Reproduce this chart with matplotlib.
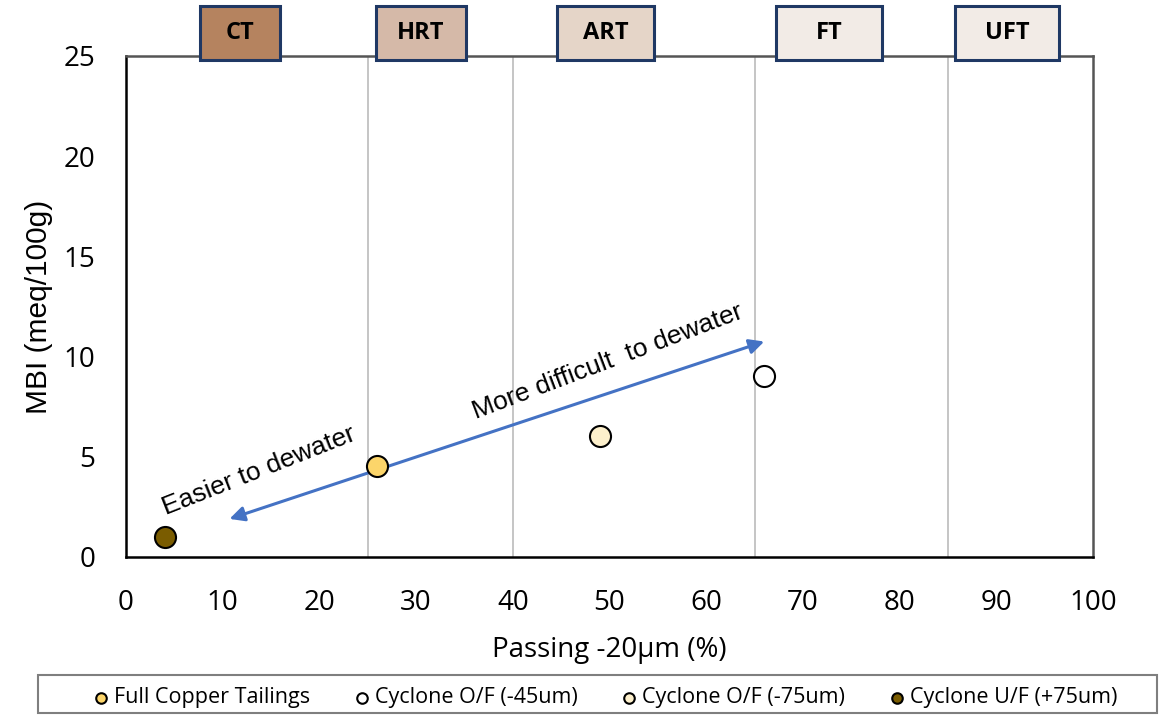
import matplotlib
matplotlib.use("Agg")
import matplotlib.pyplot as plt
from matplotlib.patches import Rectangle

# Data
series_names = ["Full Copper Tailings", "Cyclone O/F (-45um)", "Cyclone O/F (-75um)", "Cyclone U/F (+75um)"]
passing = [26.0, 66.0, 49.0, 4.0]
mbi = [4.55, 9.05, 6.05, 1.0]
colors = ["#fcd56a", "#ffffff", "#fdf0cc", "#7a5c00"]

zone_lines = [25, 40, 65, 85]
zone_labels = ["CT", "HRT", "ART", "FT", "UFT"]
zone_centers = [11.8, 30.5, 49.6, 72.7, 91.1]
zone_widths = [8.3, 9.3, 10.1, 11.0, 10.7]
zone_colors = ["#b5835f", "#d5b9a8", "#e5d5c8", "#f2ebe6", "#f2ebe6"]

arrow_start = (10.7, 1.9)
arrow_end = (66.0, 10.75)

plt.rcParams['font.family'] = ['Open Sans', 'DejaVu Sans']

fig = plt.figure(figsize=(11.7, 7.17), dpi=100)
ax = fig.add_axes([0.1077, 0.2232, 0.8265, 0.6987])
ax.set_xlim(0, 100)
ax.set_ylim(0, 25)
ax.set_xticks(range(0, 101, 10))
ax.set_yticks(range(0, 26, 5))
ax.tick_params(length=0, labelsize=20)
ax.tick_params(axis='x', pad=23)
ax.tick_params(axis='y', pad=22)
for s in ["left", "bottom"]:
    ax.spines[s].set_color("black")
    ax.spines[s].set_linewidth(1.8)
for s in ["top", "right"]:
    ax.spines[s].set_color("#555555")
    ax.spines[s].set_linewidth(1.8)

for xv in zone_lines:
    ax.axvline(xv, color="#c0c0c0", lw=1.3, zorder=1)

ax.set_xlabel("Passing -20µm (%)", fontsize=20, labelpad=14)
ax.set_ylabel("MBI (meq/100g)", fontsize=21.5, labelpad=8, family=["Liberation Sans"])

handles = []
for name, xv, yv, c in zip(series_names, passing, mbi, colors):
    h = ax.scatter([xv], [yv], s=230, facecolor=c, edgecolor="black", linewidth=1.5, zorder=5, label=name)
    handles.append(h)

ax.annotate("", xy=arrow_end, xytext=arrow_start,
            arrowprops=dict(arrowstyle="<|-|>", color="#4472c4", lw=2.2, mutation_scale=22, shrinkA=0, shrinkB=0),
            zorder=4)

ax.text(13.75, 4.3, "Easier to dewater", fontsize=19, rotation=21.5, ha="center", va="center",
        family=["Liberation Sans"], rotation_mode="anchor")
ax.text(49.8, 9.73, "More difficult  to dewater", fontsize=19, rotation=20.7, ha="center", va="center",
        family=["Liberation Sans"], rotation_mode="anchor")

# Zone label boxes
for lab, cx, w, c in zip(zone_labels, zone_centers, zone_widths, zone_colors):
    r = Rectangle((cx - w / 2, 24.8), w, 2.7, transform=ax.transData, facecolor=c,
                  edgecolor="#1f3864", linewidth=2.2, clip_on=False, zorder=6)
    ax.add_patch(r)
    ax.text(cx, 26.15, lab, ha="center", va="center", fontsize=17, fontweight="bold", zorder=7, clip_on=False)

# Legend frame
frame = Rectangle((38 / 1170, 1 - 713 / 717), (1157 - 38) / 1170, 38 / 717, transform=fig.transFigure,
                  facecolor="white", edgecolor="#7f7f7f", linewidth=1.5, zorder=0)
fig.patches.append(frame)

leg = fig.legend(handles=handles, loc="center", bbox_to_anchor=(0.516, 0.0265), ncol=4,
                 fontsize=15.5, frameon=False,
                 markerscale=0.5, handletextpad=0.1, columnspacing=1.9, borderpad=0.3,
                 handlelength=1.0)

fig.savefig("out.png", dpi=100)
